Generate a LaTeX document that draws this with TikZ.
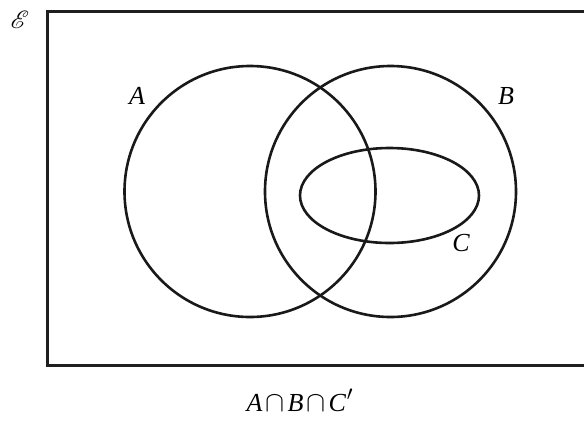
\documentclass[tikz,border=0pt]{standalone}
\usepackage{graphicx}
\usepackage{mathrsfs}
\usepackage{fontspec}
\setmainfont{Liberation Serif}
\newcommand{\bigcapsym}{\kern3pt\scalebox{1.15}{$\cap$}\kern3pt}
\begin{document}
\begin{tikzpicture}[x=1pt,y=-1pt,
  setline/.style={line width=2.6pt, draw=black!90},
  boxline/.style={line width=3pt, draw=black!88},
  lbl/.style={font=\fontsize{26}{30}\selectfont\itshape, inner sep=0pt}]
\useasboundingbox (0,0) rectangle (584,421);
\draw[boxline] (592,11.5) -- (47.5,11.5) -- (47.5,365.5) -- (592,365.5);
\node[setline, circle, minimum size=251pt, inner sep=0pt] (A) at (250,191.5) {};
\node[setline, circle, minimum size=251pt, inner sep=0pt] (B) at (390.5,191.5) {};
\draw[setline] (389.5,195.5) ellipse [x radius=89.5, y radius=47.5];
\node[lbl] (la) at (137,96) {A};
\node[lbl] (lb) at (506,96) {B};
\node[lbl] (lc) at (461,243) {C};
\node[inner sep=0pt] (le) at (20,20) {\fontsize{25}{28}\selectfont$\mathscr{E}$};
\node[lbl, anchor=base] (cap) at (300,411) {A\bigcapsym B\bigcapsym C\kern1pt\scalebox{1.2}{$'$}};
\end{tikzpicture}
\end{document}
